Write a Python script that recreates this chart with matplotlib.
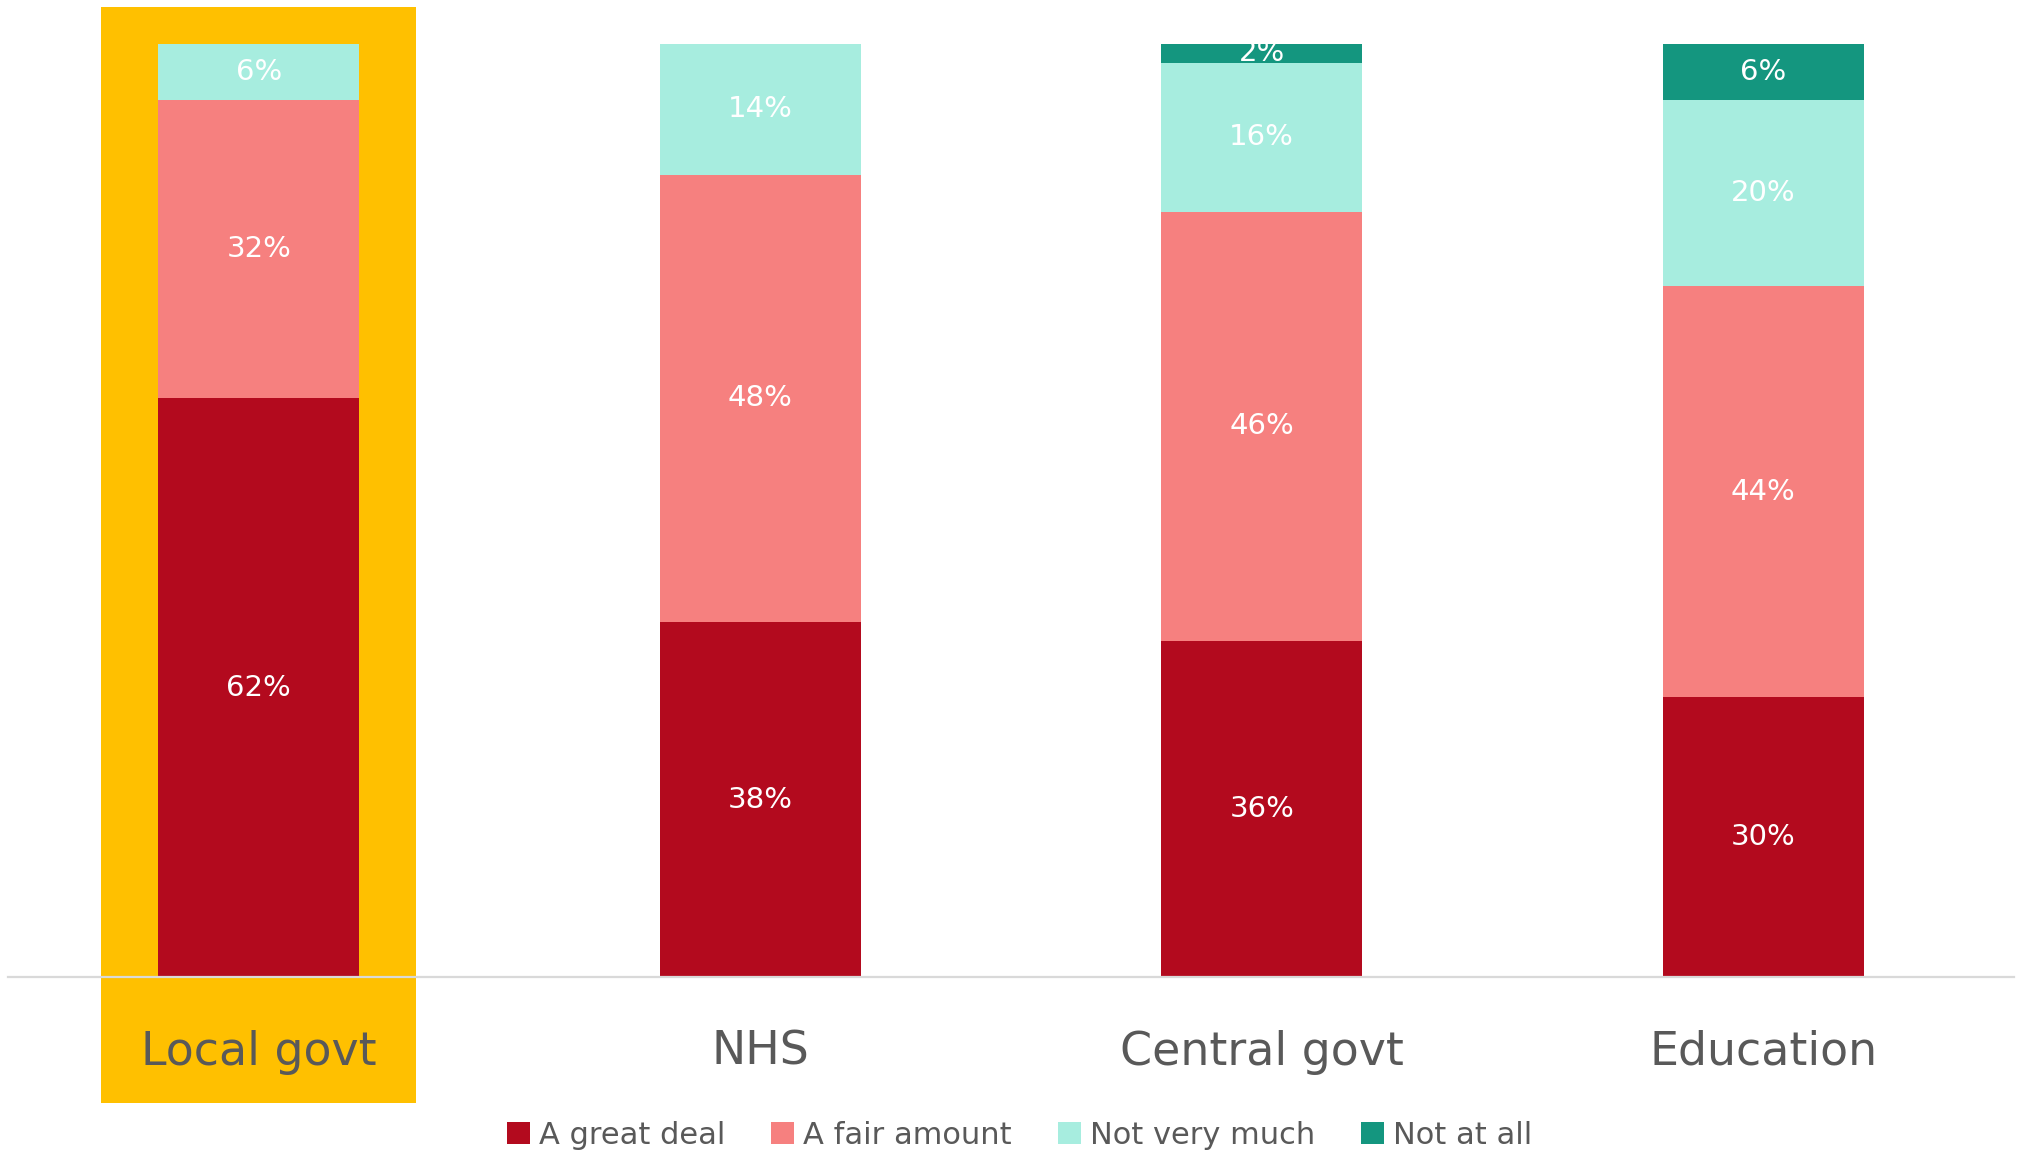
import matplotlib.pyplot as plt
from matplotlib.patches import Rectangle
import numpy as np

categories = ["Local govt", "NHS", "Central govt", "Education"]
series = ["A great deal", "A fair amount", "Not very much", "Not at all"]
great_deal = [62, 38, 36, 30]
fair_amount = [32, 48, 46, 44]
not_very_much = [6, 14, 16, 20]
not_at_all = [0, 0, 2, 6]
colors = ["#B30A1E", "#F6807F", "#A7EDDF", "#14967F"]
highlight = "#FFC000"

fig = plt.figure(figsize=(20.19, 11.52), dpi=100)
ax = fig.add_axes([8 / 2019, 0.152, 2006 / 2019, 933 / 1152])

x = np.arange(len(categories))
values = [great_deal, fair_amount, not_very_much, not_at_all]
bottom = np.zeros(len(categories))
for name, vals, col in zip(series, values, colors):
    vals = np.array(vals, dtype=float)
    ax.bar(x, vals, width=0.4, bottom=bottom, color=col, label=name, zorder=2)
    for xi, b, v in zip(x, bottom, vals):
        if v > 0:
            ax.text(xi, b + v / 2, f"{int(v)}%", ha="center", va="center",
                    color="white", fontsize=21, zorder=3)
    bottom += vals

# highlight box behind the first category
ax.add_patch(Rectangle((-0.314, -13.5), 0.628, 117.5, facecolor=highlight,
                       edgecolor="none", zorder=0, clip_on=False))

ax.set_xlim(-0.5, 3.5)
ax.set_ylim(0, 100)
ax.set_xticks(x)
ax.set_xticklabels(categories, fontsize=33, color="#595959")
ax.tick_params(axis="x", length=0, pad=38)
ax.set_yticks([])
for side in ["top", "left", "right"]:
    ax.spines[side].set_visible(False)
ax.spines["bottom"].set_color("#d9d9d9")
ax.spines["bottom"].set_linewidth(1.6)
ax.spines["bottom"].set_zorder(4)
ax.patch.set_alpha(0)

fig.legend(loc="lower center", bbox_to_anchor=(0.505, -0.022), ncol=4,
           frameon=False, fontsize=22, handlelength=0.75, handleheight=0.75,
           handletextpad=0.3, columnspacing=1.5, labelcolor="#595959")

fig.savefig("out.png", dpi=100)
